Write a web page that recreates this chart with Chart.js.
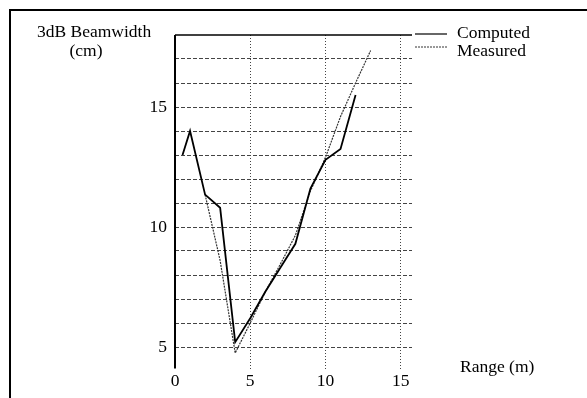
<!DOCTYPE html>
<html>
<head>
<meta charset="utf-8">
<script src="https://cdn.jsdelivr.net/npm/chart.js@4"></script>
<style>
  html, body { margin: 0; padding: 0; background: #fff; }
  #wrap { width: 587px; height: 398px; }
</style>
</head>
<body>
<div id="wrap"><canvas id="beam-chart" width="587" height="398"></canvas></div>
<script>
// values
const computedRange = [0.5, 1, 2, 3, 4, 5, 6, 7, 8, 9, 10, 11, 12];
const computedWidth = [13.0, 14.0, 11.35, 10.8, 5.2, 6.2, 7.3, 8.3, 9.3, 11.6, 12.8, 13.25, 15.5];
const measuredRange = [2, 3, 4, 5, 6, 7, 8, 9, 10, 11, 12, 13];
const measuredWidth = [11.35, 8.6, 4.75, 6.0, 7.3, 8.45, 9.65, 11.5, 12.9, 14.6, 16.0, 17.35];
const xTicks = [0, 5, 10, 15];
const yLabels = [5, 10, 15];

const serif = "'Liberation Serif', 'DejaVu Serif', serif";

function pts(xs, ys) {
    return xs.map((x, i) => ({ x: x, y: ys[i] }));
}

// frame, titles, legend, axis line
const decor = {
    id: "decor",
    beforeDatasetsDraw(chart) {
        const { ctx, chartArea, scales } = chart;
        ctx.save();
        // solid top line of plot
        ctx.strokeStyle = "#000";
        ctx.lineWidth = 1.5;
        ctx.beginPath();
        ctx.moveTo(chartArea.left, scales.y.getPixelForValue(18));
        ctx.lineTo(chartArea.right, scales.y.getPixelForValue(18));
        ctx.stroke();
        // y axis line
        ctx.lineWidth = 2;
        ctx.beginPath();
        ctx.moveTo(chartArea.left, chartArea.top);
        ctx.lineTo(chartArea.left, scales.y.getPixelForValue(4.1));
        ctx.stroke();
        ctx.restore();
    },
    afterDraw(chart) {
        const ctx = chart.ctx;
        ctx.save();
        // outer frame (top + left)
        ctx.strokeStyle = "#000";
        ctx.lineWidth = 2;
        ctx.beginPath();
        ctx.moveTo(587, 10);
        ctx.lineTo(10, 10);
        ctx.lineTo(10, 398);
        ctx.stroke();

        ctx.fillStyle = "#000";
        ctx.font = "17.5px " + serif;
        ctx.textBaseline = "middle";
        ctx.textAlign = "left";
        ctx.fillText("3dB Beamwidth", 37, 32);
        ctx.textAlign = "center";
        ctx.fillText("(cm)", 86, 51);
        ctx.textAlign = "left";
        ctx.fillText("Range (m)", 460, 367);

        // legend
        ctx.fillText("Computed", 457, 33);
        ctx.fillText("Measured", 457, 51);
        ctx.strokeStyle = "#000";
        ctx.lineWidth = 1.2;
        ctx.beginPath();
        ctx.moveTo(415, 34);
        ctx.lineTo(447, 34);
        ctx.stroke();
        ctx.strokeStyle = "#333";
        ctx.lineWidth = 1;
        ctx.setLineDash([2, 1]);
        ctx.beginPath();
        ctx.moveTo(415, 47);
        ctx.lineTo(447, 47);
        ctx.stroke();
        ctx.restore();
    }
};

const ctx = document.getElementById("beam-chart").getContext("2d");

new Chart(ctx, {
    type: "line",
    data: {
        datasets: [{
            label: "Computed",
            data: pts(computedRange, computedWidth),
            borderColor: "#000",
            borderWidth: 1.8,
            pointRadius: 0,
            tension: 0,
            fill: false
        }, {
            label: "Measured",
            data: pts(measuredRange, measuredWidth),
            borderColor: "#333",
            borderWidth: 1.2,
            borderDash: [2, 1],
            pointRadius: 0,
            tension: 0,
            fill: false
        }]
    },
    options: {
        responsive: false,
        animation: false,
        layout: { padding: { left: 0, top: 35, right: 175, bottom: 0 } },
        plugins: {
            legend: { display: false },
            tooltip: { enabled: false }
        },
        scales: {
            x: {
                type: "linear",
                min: 0,
                max: 15.75,
                afterFit: s => { s.height = 27; },
                afterBuildTicks: s => { s.ticks = xTicks.map(v => ({ value: v })); },
                border: { display: false, dash: [1, 2] },
                grid: {
                    drawTicks: false,
                    color: c => (c.tick && c.tick.value === 0) ? "rgba(0,0,0,0)" : "#444",
                    lineWidth: 1
                },
                ticks: {
                    color: "#000",
                    font: { family: serif, size: 17.5 },
                    padding: 0,
                    maxRotation: 0
                }
            },
            y: {
                type: "linear",
                min: 4,
                max: 18,
                afterFit: s => { s.width = 175; },
                border: { display: false, dash: [4, 2] },
                grid: {
                    drawTicks: false,
                    color: c => (c.tick && (c.tick.value === 4 || c.tick.value === 18)) ? "rgba(0,0,0,0)" : "#444",
                    lineWidth: 1
                },
                ticks: {
                    stepSize: 1,
                    autoSkip: false,
                    color: "#000",
                    font: { family: serif, size: 17.5 },
                    padding: 8,
                    callback: v => yLabels.includes(v) ? String(v) : ""
                }
            }
        }
    },
    plugins: [decor]
});
</script>
</body>
</html>
